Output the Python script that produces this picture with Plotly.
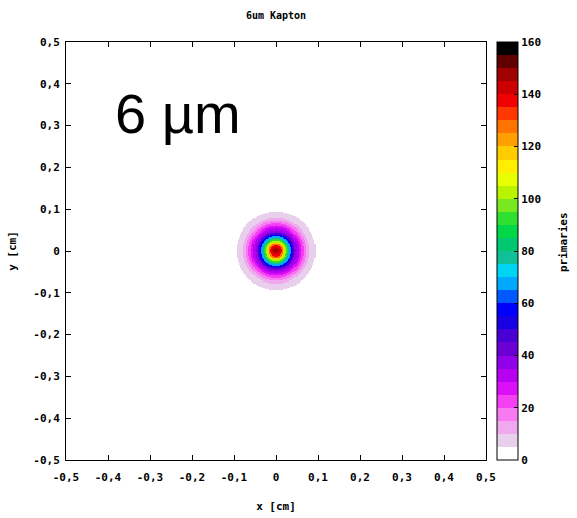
import numpy as np
import plotly.graph_objects as go

# ---- data ----
axis_tick_values = [-0.5, -0.4, -0.3, -0.2, -0.1, 0.0, 0.1, 0.2, 0.3, 0.4, 0.5]
axis_tick_labels = ["-0,5", "-0,4", "-0,3", "-0,2", "-0,1", "0", "0,1", "0,2", "0,3", "0,4", "0,5"]
cbar_tick_values = [0, 20, 40, 60, 80, 100, 120, 140, 160]

# beam spot: outer radius (cm) of each ring and its number of primaries
ring_outer_cm = [0.005, 0.009, 0.013, 0.017, 0.020, 0.024, 0.028, 0.032, 0.036, 0.040,
                 0.045, 0.050, 0.055, 0.060, 0.066, 0.072, 0.079, 0.086, 0.094]
ring_primaries = [146, 141, 136, 128, 116, 104, 92, 78, 66, 55,
                  45, 37, 31, 26, 21, 17, 13, 9, 6]
spot_centre = [0.0, 0.0]
bin_cm = 0.0025

# 32 palette levels (5 primaries each), from 0 up to 160
level_colors = [
    "#ffffff", "#e8d0ec", "#f0a8ee", "#f87af2", "#f440f2", "#dc10f8", "#b800f0", "#9000e8",
    "#6c00d4", "#4800d4", "#1800e4", "#0000ff", "#0058ff", "#00a8ff", "#00d4f4", "#10c098",
    "#00c870", "#00d848", "#30e030", "#78e820", "#b8f400", "#e8ff00", "#ffee00", "#ffcc00",
    "#ffa000", "#ff7400", "#ff3800", "#f00000", "#cc0000", "#a00000", "#600000", "#000000",
]
z_max = 160

# ---- build the histogram grid from the rings ----
centres = np.round(np.arange(-0.12, 0.12 + 1e-9, bin_cm), 5)
X, Y = np.meshgrid(centres, centres)
R = np.hypot(X, Y)
idx = np.searchsorted(np.array(ring_outer_cm), R, side="left")
vals = np.append(np.array(ring_primaries, dtype=float), 0.0)
Z = vals[idx]

n = len(level_colors)
colorscale = []
for i, c in enumerate(level_colors):
    colorscale.append([i / n, c])
    colorscale.append([(i + 1) / n, c])

tick_font = dict(family="DejaVu Sans Mono", size=11, color="black", weight="bold")

fig = go.Figure(go.Heatmap(
    x=centres + spot_centre[0], y=centres + spot_centre[1], z=Z,
    zmin=0, zmax=z_max, zsmooth=False, colorscale=colorscale,
    hoverinfo="skip",
    colorbar=dict(
        x=(497 - 66) / 420, xanchor="left", xref="paper", xpad=0,
        y=0.5, yanchor="middle", len=1, lenmode="fraction", ypad=0,
        thickness=21, outlinecolor="black", outlinewidth=1,
        tickvals=cbar_tick_values, ticks="inside", ticklen=4, tickcolor="black",
        tickfont=tick_font,
    ),
))

axis_common = dict(
    range=[-0.5, 0.5], tickvals=axis_tick_values, ticktext=axis_tick_labels,
    ticks="inside", ticklen=5, tickcolor="black", showline=True, linecolor="black",
    linewidth=1, mirror="ticks", showgrid=False, zeroline=False, tickfont=tick_font,
    automargin=False,
)

fig.update_layout(
    width=577, height=518,
    margin=dict(l=66, r=91, t=42, b=58),
    paper_bgcolor="white", plot_bgcolor="white",
    title=dict(text="6um Kapton", x=0.5, xref="paper", xanchor="center",
               y=1 - 15 / 518, yref="container", yanchor="middle",
               font=dict(family="DejaVu Sans Mono", size=10, color="black", weight="bold")),
    xaxis=dict(axis_common, ticklabelstandoff=7,
               title=dict(text="x [cm]", font=tick_font, standoff=19)),
    yaxis=dict(axis_common, ticklabelstandoff=3,
               title=dict(text="y [cm]", font=tick_font, standoff=14)),
    annotations=[
        dict(text="6 µm", x=(178 - 66) / 420, y=(460 - 113) / 418,
             xref="paper", yref="paper", xanchor="center", yanchor="middle",
             showarrow=False,
             font=dict(family="Liberation Sans", size=56, color="black")),
        dict(text="primaries", x=(563 - 66) / 420, y=(460 - 242) / 418,
             xref="paper", yref="paper", xanchor="center", yanchor="middle",
             textangle=-90, showarrow=False, font=tick_font),
    ],
)

fig.write_html("out.html")
